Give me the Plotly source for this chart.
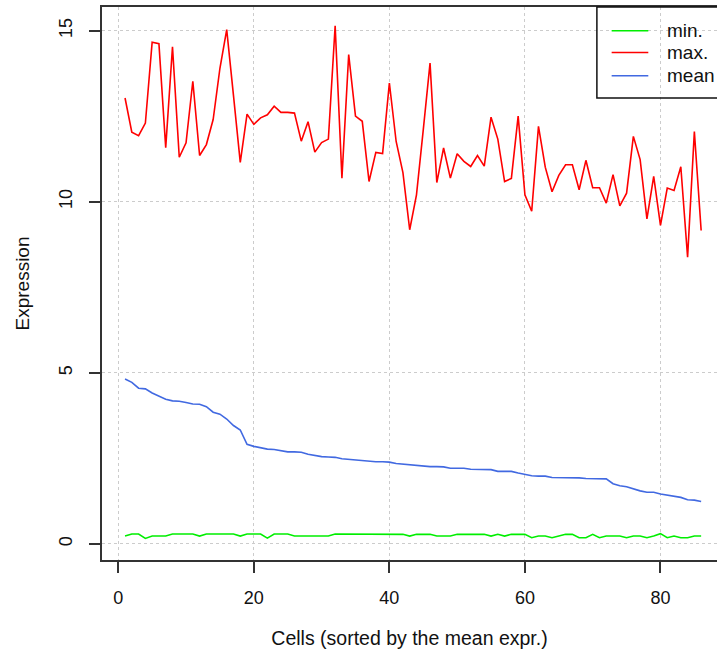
import plotly.graph_objects as go

cells = list(range(1, 87))

max_expr = [13.03, 12.03, 11.93, 12.30, 14.66, 14.62, 11.58, 14.53, 11.30, 11.72,
            13.52, 11.35, 11.67, 12.40, 13.90, 15.03, 13.10, 11.15, 12.56, 12.26,
            12.45, 12.54, 12.79, 12.61, 12.61, 12.59, 11.77, 12.34, 11.45, 11.73,
            11.83, 15.14, 10.69, 14.30, 12.50, 12.35, 10.59, 11.44, 11.41, 13.47,
            11.76, 10.85, 9.18, 10.20, 12.10, 14.05, 10.56, 11.57, 10.69, 11.40,
            11.18, 11.03, 11.35, 11.04, 12.47, 11.83, 10.59, 10.68, 12.50, 10.20,
            9.72, 12.20, 11.01, 10.29, 10.77, 11.08, 11.08, 10.35, 11.21, 10.41,
            10.41, 9.96, 10.79, 9.88, 10.25, 11.91, 11.23, 9.50, 10.74, 9.31,
            10.40, 10.33, 11.02, 8.38, 12.05, 9.16]

mean_expr = [4.82, 4.72, 4.55, 4.53, 4.41, 4.31, 4.23, 4.18, 4.17, 4.13,
             4.09, 4.08, 4.01, 3.85, 3.79, 3.65, 3.46, 3.33, 2.91, 2.85,
             2.80, 2.77, 2.76, 2.72, 2.69, 2.69, 2.68, 2.62, 2.58, 2.55,
             2.54, 2.53, 2.49, 2.47, 2.45, 2.44, 2.41, 2.40, 2.40, 2.39,
             2.35, 2.33, 2.31, 2.30, 2.26, 2.26, 2.26, 2.25, 2.21, 2.21,
             2.21, 2.18, 2.18, 2.18, 2.17, 2.12, 2.12, 2.12, 2.07, 2.02,
             1.99, 1.98, 1.98, 1.94, 1.94, 1.94, 1.93, 1.93, 1.91, 1.91,
             1.91, 1.90, 1.76, 1.70, 1.67, 1.60, 1.55, 1.51, 1.51, 1.46,
             1.43, 1.38, 1.36, 1.29, 1.28, 1.24]

min_expr = [0.23, 0.29, 0.29, 0.16, 0.23, 0.23, 0.23, 0.29, 0.29, 0.29,
            0.29, 0.23, 0.29, 0.29, 0.29, 0.29, 0.29, 0.23, 0.29, 0.29,
            0.29, 0.17, 0.29, 0.29, 0.29, 0.23, 0.23, 0.23, 0.23, 0.23,
            0.23, 0.29, 0.29, 0.29, 0.29, 0.29, 0.29, 0.29, 0.29, 0.29,
            0.29, 0.28, 0.23, 0.28, 0.28, 0.28, 0.23, 0.23, 0.23, 0.28,
            0.28, 0.28, 0.28, 0.28, 0.23, 0.28, 0.23, 0.28, 0.28, 0.28,
            0.18, 0.23, 0.23, 0.18, 0.23, 0.28, 0.28, 0.18, 0.18, 0.28,
            0.18, 0.23, 0.23, 0.23, 0.18, 0.23, 0.23, 0.18, 0.23, 0.30,
            0.18, 0.23, 0.18, 0.18, 0.23, 0.23]

series_names = ["min.", "max.", "mean"]
series_colors = ["#00ee00", "#ff0000", "#4169e1"]
series_values = [min_expr, max_expr, mean_expr]

x_ticks = [0, 20, 40, 60, 80]
y_ticks = [0, 5, 10, 15]

FONT = "Liberation Sans, Arial, sans-serif"
AXC = "#333333"

fig = go.Figure()
for name, color, vals in zip(series_names, series_colors, series_values):
    fig.add_trace(go.Scatter(x=cells, y=vals, mode="lines", name=name,
                             showlegend=False,
                             line=dict(color=color, width=1.6)))

# R-style legend box (transparent, top-right, partially cut by the page edge)
shapes = [dict(type="rect", xref="paper", yref="paper",
               x0=0.8047, x1=1.05, y0=0.8354, y1=1.0, layer="above",
               line=dict(color="#111111", width=1.5), fillcolor="rgba(0,0,0,0)")]
annotations = []
row_y = [0.9571, 0.9177, 0.8758]
for name, color, yy in zip(series_names, series_colors, row_y):
    shapes.append(dict(type="line", xref="paper", yref="paper",
                       x0=0.8287, x1=0.8883, y0=yy, y1=yy, layer="above",
                       line=dict(color=color, width=1.6)))
    annotations.append(dict(xref="paper", yref="paper", x=0.9154, y=yy,
                            xanchor="left", yanchor="middle", showarrow=False,
                            text=name, font=dict(size=19, family=FONT, color="#111111")))

fig.update_layout(
    width=717, height=656,
    margin=dict(l=102, r=0, t=7, b=96, autoexpand=False),
    paper_bgcolor="white", plot_bgcolor="white",
    font=dict(family=FONT, size=18, color="#111111"),
    showlegend=False,
    shapes=shapes, annotations=annotations,
    xaxis=dict(range=[-2.4, 88.34], tickvals=x_ticks, ticks="outside",
               ticklen=11, tickwidth=1.5, tickcolor=AXC,
               showline=True, linecolor=AXC, linewidth=1.6, mirror=True,
               showgrid=True, gridcolor="#cccccc", gridwidth=1, griddash="3px,3px",
               zeroline=False, ticklabelstandoff=10,
               title=dict(text="Cells (sorted by the mean expr.)", standoff=24,
                          font=dict(size=19.5))),
    yaxis=dict(range=[-0.47, 15.69], tickvals=y_ticks, ticks="outside",
               ticklen=11, tickwidth=1.5, tickcolor=AXC, tickangle=-90,
               showline=True, linecolor=AXC, linewidth=1.6, mirror=False,
               showgrid=True, gridcolor="#cccccc", gridwidth=1, griddash="3px,3px",
               zeroline=False, ticklabelstandoff=10,
               title=dict(text="Expression", standoff=21, font=dict(size=19))),
)

fig.write_html("out.html")
